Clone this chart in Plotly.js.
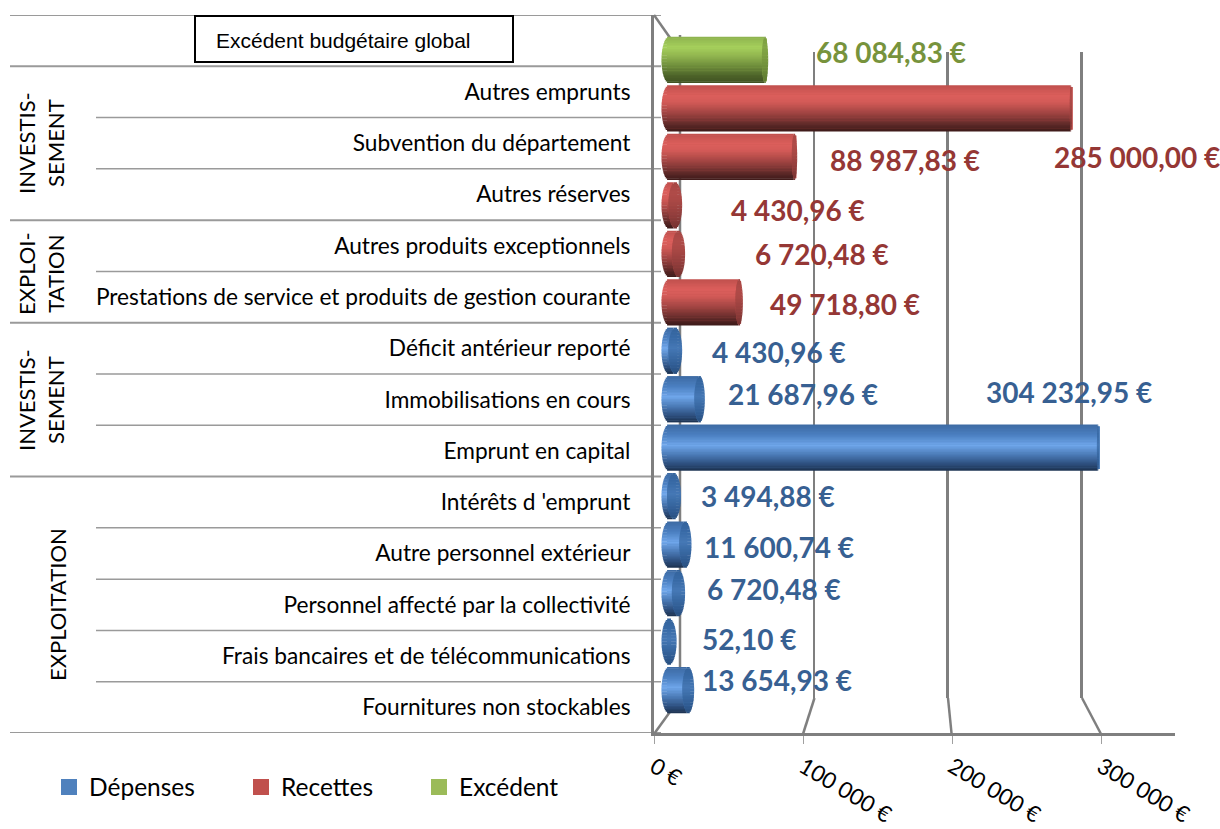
<!DOCTYPE html>
<html><head><meta charset="utf-8">
<script src="https://cdn.plot.ly/plotly-3.0.1.min.js"></script>
<style>html,body{margin:0;padding:0;background:#fff}#c{width:1220px;height:829px}</style>
</head><body><div id="c"></div>
<script>
// ---- data, top row first ----
const categories = ["", "Autres emprunts", "Subvention du département", "Autres réserves",
  "Autres produits exceptionnels", "Prestations de service et produits de gestion courante",
  "Déficit antérieur reporté", "Immobilisations en cours", "Emprunt en capital",
  "Intérêts d 'emprunt", "Autre personnel extérieur", "Personnel affecté par la collectivité",
  "Frais bancaires et de télécommunications", "Fournitures non stockables"];
const excedent = [68084.83, null, null, null, null, null, null, null, null, null, null, null, null, null];
const recettes = [null, 285000.00, 88987.83, 4430.96, 6720.48, 49718.80, null, null, null, null, null, null, null, null];
const depenses = [null, null, null, null, null, null, 4430.96, 21687.96, 304232.95, 3494.88, 11600.74, 6720.48, 52.10, 13654.93];
const axisTicks = [0, 100000, 200000, 300000];
const axisTickLabels = ["0 €", "100 000 €", "200 000 €", "300 000 €"];
const groupLabels = ["INVESTIS-<br>SEMENT", "EXPLOI-<br>TATION", "INVESTIS-<br>SEMENT", "EXPLOITATION"];

// ---- layout helpers (pixels of the 1220x829 page) ----
const W = 1220, H = 829;
const fx = p => p / W, fy = p => 1 - p / H;
const dx = (a, b) => [fx(a), fx(b)], dy = (top, bot) => [fy(bot), fy(top)];
const GREY = "#7f7f7f";
const FONT = "Lato, 'Open Sans', sans-serif";

// data-label placement, same order as the rows
const labelLeft = [814, 1052, 828, 729, 753, 768, 710, 726, 984, 699, 702, 705, 700, 700];
const labelMid  = [52, 157, 160, 210, 254, 304, 352, 394, 392, 496, 547, 589, 639, 680];
const groupX = [41, 41, 41, 57], groupY = [143, 274, 400, 605];
const majorRows = [-0.5, 0.5, 3.5, 5.5, 8.5, 13.5];

const SERIES = [
  {name:"Dépenses", values:depenses, swatch:"#4F81BD", text:"#376092",
   stops:[[-1,"#3d6ba3"],[-0.55,"#4a7fc0"],[-0.1,"#6fa6ea"],[0.3,"#4c7cb8"],[0.7,"#2e5080"],[1,"#1c3250"]], disc:"#2f5f98"},
  {name:"Recettes", values:recettes, swatch:"#C0504D", text:"#953735",
   stops:[[-1,"#c0504d"],[-0.55,"#dc5f5c"],[-0.25,"#d25a57"],[0.25,"#9c4240"],[0.7,"#602a29"],[1,"#3d1a19"]], disc:"#97403e"},
  {name:"Excédent", values:excedent, swatch:"#9BBB59", text:"#77933C",
   stops:[[-1,"#8cb24e"],[-0.55,"#a6d05c"],[-0.2,"#93b850"],[0.3,"#6c8a3a"],[0.7,"#4d6329"],[1,"#3f5122"]], disc:"#71913a"}
];
const hex = c => [1,3,5].map(i => parseInt(c.substr(i,2),16));
const mix = (a,b,k) => { const A=hex(a),B=hex(b); return "rgb("+A.map((v,i)=>Math.round(v+(B[i]-v)*k)).join(",")+")"; };
const toHex = rgb => "#"+rgb.match(/\d+/g).map(v=>(+v).toString(16).padStart(2,"0")).join("");
function shade(stops,t){ for(let i=1;i<stops.length;i++){ if(t<=stops[i][0]){ const k=(t-stops[i-1][0])/(stops[i][0]-stops[i-1][0]); return mix(stops[i-1][1],stops[i][1],k);} } return stops[stops.length-1][1]; }

// bar value axis: 0 at px 669, 1.41 px per 1000 €
const BAR0 = 669, PXK = 1.41, BAR_START = 650, BAR_END = 1175;
const units = 1000/PXK;
const capPx = v => 7.5/(1+v/50000);

const rowSeries = categories.map((_,i)=>SERIES.find(s=>s.values[i]!==null));
const rowValue  = categories.map((_,i)=>rowSeries[i].values[i]);

const rowIdx = categories.map((_,i)=>i);
const traces = [];
// wall subplot placeholder + tick-axis subplot placeholder
traces.push({type:"scatter",x:[null],y:[null],xaxis:"x",yaxis:"y",showlegend:false,hoverinfo:"skip"});
traces.push({type:"scatter",x:[null],y:[null],xaxis:"x2",yaxis:"y2",showlegend:false,hoverinfo:"skip"});
// true bars (one per series, they also carry the legend)
SERIES.forEach((s,k)=>traces.push({type:"bar",orientation:"h",name:s.name,x:s.values,y:rowIdx,xaxis:"x3",yaxis:"y3",
  width:0.8,marker:{color:s.swatch,line:{color:s.swatch,width:4}},legend:k?"legend"+(k+1):"legend",hoverinfo:"x+name"}));
// cylinder shading: thin horizontal slices
const BAR_H = 0.948, N = 30, sl = BAR_H/N;
for(let j=0;j<N;j++){
  const t = -1+(2*j+1)/N, off = t*BAR_H/2, ell = Math.sqrt(1-t*t);
  const ys = rowIdx.map(i=>i+off);
  traces.push({type:"bar",orientation:"h",xaxis:"x3",yaxis:"y3",showlegend:false,hoverinfo:"skip",y:ys,width:sl*1.25,
    base:rowValue.map(()=>-7.5*ell*units),
    x:rowValue.map(v=>v+(7.5-capPx(v))*ell*units),
    marker:{color:rowSeries.map(s=>shade(s.stops,t)),line:{width:0}}});
}
for(let j=0;j<N;j++){
  const t = -1+(2*j+1)/N, off = t*BAR_H/2, ell = Math.sqrt(1-t*t);
  const ys = rowIdx.map(i=>i+off);
  traces.push({type:"bar",orientation:"h",xaxis:"x3",yaxis:"y3",showlegend:false,hoverinfo:"skip",y:ys,width:sl*1.25,
    base:rowValue.map(v=>v-capPx(v)*ell*units),
    x:rowValue.map(v=>2*capPx(v)*ell*units),
    marker:{color:rowSeries.map(s=>mix(s.disc,toHex(shade(s.stops,t)),0.35)),line:{width:0}}});
}

const fr = v => v.toFixed(2).replace(".",",").replace(/\B(?=(\d{3})+(?!\d))(?=.*,)/g," ")+" €";
const annotations = [];
rowValue.forEach((v,i)=>annotations.push({xref:"paper",yref:"paper",x:fx(labelLeft[i]),y:fy(labelMid[i]),xanchor:"left",yanchor:"middle",showarrow:false,
  text:"<b>"+fr(v)+"</b>",font:{family:FONT,size:28,color:rowSeries[i].text}}));
groupLabels.forEach((g,i)=>annotations.push({xref:"paper",yref:"paper",x:fx(groupX[i]),y:fy(groupY[i]),xanchor:"center",yanchor:"middle",showarrow:false,textangle:-90,
  text:g,font:{family:FONT,size:22,color:"#000"}}));
annotations.push({xref:"paper",yref:"paper",x:fx(214),y:fy(40),xanchor:"left",yanchor:"middle",showarrow:false,
  text:"Excédent budgétaire global",font:{family:"'Liberation Sans', Arial, sans-serif",size:21,color:"#000"}});

const shapes = [];
// row separators on the left wall
for(let r=-0.5;r<=13.5;r+=1){
  const major = majorRows.includes(r);
  shapes.push({type:"line",layer:"below",xref:"paper",yref:"y2",x0:fx(major?10:96),x1:fx(661),y0:r,y1:r,
    line:{color:"#9a9a9a",width:major?2:1.5}});
}
// title box of the first row
shapes.push({type:"rect",xref:"paper",yref:"paper",x0:fx(195),x1:fx(513),y0:fy(16),y1:fy(62),line:{color:"#000",width:2},fillcolor:"#fff",layer:"below"});
// floor / wall perspective lines
const wallLine = (x0,y0,x1,y1)=>shapes.push({type:"line",layer:"below",xref:"paper",yref:"paper",x0:fx(x0),y0:fy(y0),x1:fx(x1),y1:fy(y1),line:{color:GREY,width:2.5}});
wallLine(654,734,680,698); wallLine(814.5,698,803,734); wallLine(948,698,951.6,734); wallLine(1082,698,1101,734);
wallLine(654,15,680,52); wallLine(680,35,680,698);

const legendBase = {xanchor:"left",yanchor:"middle",bgcolor:"rgba(0,0,0,0)",font:{family:FONT,size:24.5,color:"#000"},orientation:"h"};
const layout = {
  width:W,height:H,margin:{l:0,r:0,t:0,b:0},paper_bgcolor:"#fff",plot_bgcolor:"rgba(0,0,0,0)",
  barmode:"overlay",font:{family:FONT,color:"#000"},
  // back wall grid
  xaxis:{domain:dx(680,1175),range:[0,(1175-680)/133.8*100000],anchor:"y",tickmode:"array",tickvals:axisTicks.slice(1),ticktext:["","",""],showgrid:true,gridcolor:GREY,gridwidth:2.5,zeroline:false,showline:false,ticks:""},
  yaxis:{domain:dy(52,698),range:[0,1],anchor:"x",visible:false},
  // front axes with labels
  xaxis2:{domain:dx(654,1175),range:[0,(1175-654)/(1101-654)*300000],anchor:"y2",tickmode:"array",tickvals:axisTicks,ticktext:axisTickLabels,tickangle:31,
    ticks:"outside",ticklen:8,tickwidth:1,tickcolor:"#a0a0a0",showgrid:false,zeroline:false,showline:true,linecolor:GREY,linewidth:3,
    tickfont:{family:FONT,size:22.5,color:"#000"},ticklabelstandoff:1},
  yaxis2:{domain:dy(15,733),range:[13.5,-0.5],anchor:"x2",tickmode:"array",tickvals:rowIdx,ticktext:categories,showgrid:false,zeroline:false,
    showline:true,linecolor:GREY,linewidth:3,ticks:"outside",ticklen:16,tickcolor:"rgba(0,0,0,0)",tickfont:{family:FONT,size:22.7,color:"#000"}},
  // bars
  xaxis3:{domain:dx(BAR_START,BAR_END),range:[(BAR_START-BAR0)*units,(BAR_END-BAR0)*units],anchor:"y3",visible:false},
  yaxis3:{domain:dy(35.7,714.3),range:[13.5,-0.5],anchor:"x3",visible:false},
  legend:{...legendBase,x:fx(49),y:fy(787)},
  legend2:{...legendBase,x:fx(241),y:fy(787)},
  legend3:{...legendBase,x:fx(419),y:fy(787)},
  annotations,shapes,showlegend:true
};
Plotly.newPlot("c",traces,layout,{displayModeBar:false,staticPlot:true});
</script></body></html>
